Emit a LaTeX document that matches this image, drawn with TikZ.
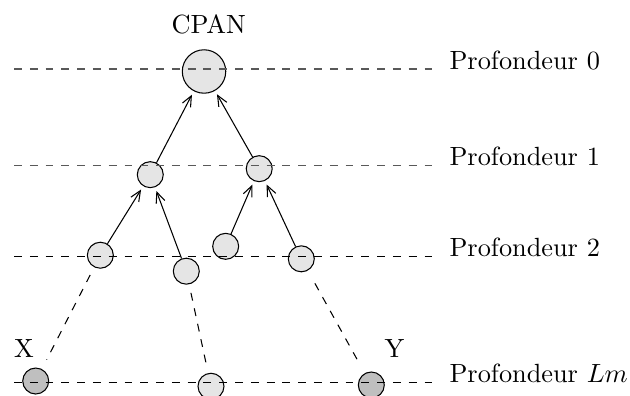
\documentclass[tikz,border=0pt]{standalone}
\usepackage{tikz}
\usetikzlibrary{arrows.meta}

\begin{document}
\begin{tikzpicture}[>={Straight Barb[length=4pt,width=3.5pt]},
    noeud/.style={circle, draw, fill=black!10, inner sep=0pt, minimum size=0.347cm},
    extremite/.style={noeud, fill=black!25},
    lien/.style={->, shorten >=1.5pt},
    chemin/.style={dashed, shorten <=3.3pt, shorten >=4pt}]
  \useasboundingbox (0,0) rectangle (8.414,5.289);
  % ---- the tree ----
  \node[noeud, minimum size=0.58cm] (cpan) at (2.725,4.334) {};
  \node[anchor=base] (titre) at (2.789,4.844) {CPAN};
  \node[noeud] (g1) at (2.007,2.956) {};
  \node[noeud] (d1) at (3.462,3.036) {};
  \node[noeud] (a2) at (1.340,1.880) {};
  \node[noeud] (b2) at (2.488,1.667) {};
  \node[noeud] (c2) at (3.014,1.999) {};
  \node[noeud] (e2) at (4.024,1.832) {};
  \node[extremite] (x) at (0.477,0.200) {};
  \node[noeud] (m) at (2.818,0.130) {};
  \node[extremite] (y) at (4.959,0.147) {};
  \node[anchor=base] (lx) at (0.321,0.508) {X};
  \node[anchor=base] (ly) at (5.269,0.508) {Y};
  \draw[lien] (g1) -- (cpan);
  \draw[lien] (d1) -- (cpan);
  \draw[lien] (a2) -- (g1);
  \draw[lien] (b2) -- (g1);
  \draw[lien] (c2) -- (d1);
  \draw[lien] (e2) -- (d1);
  \draw[chemin] (a2) -- (x);
  \draw[chemin] (b2) -- (m);
  \draw[chemin, shorten <=5.5pt, shorten >=6pt] (e2) -- (y);
  % ---- depths, over the nodes ----
  \foreach \h/\col/\nom/\txt in {4.367/black!65/p0/{Profondeur 0},
      3.081/black!65/p1/{Profondeur 1}, 1.866/black/p2/{Profondeur 2},
      0.180/black/plm/{Profondeur $Lm$}} {
    \draw[dashed, \col, line width=0.5pt] (0.187,\h) -- (5.837,\h);
    \node[anchor=base west] (\nom) at (5.88,\h) {\txt};
  }
\end{tikzpicture}
\end{document}
